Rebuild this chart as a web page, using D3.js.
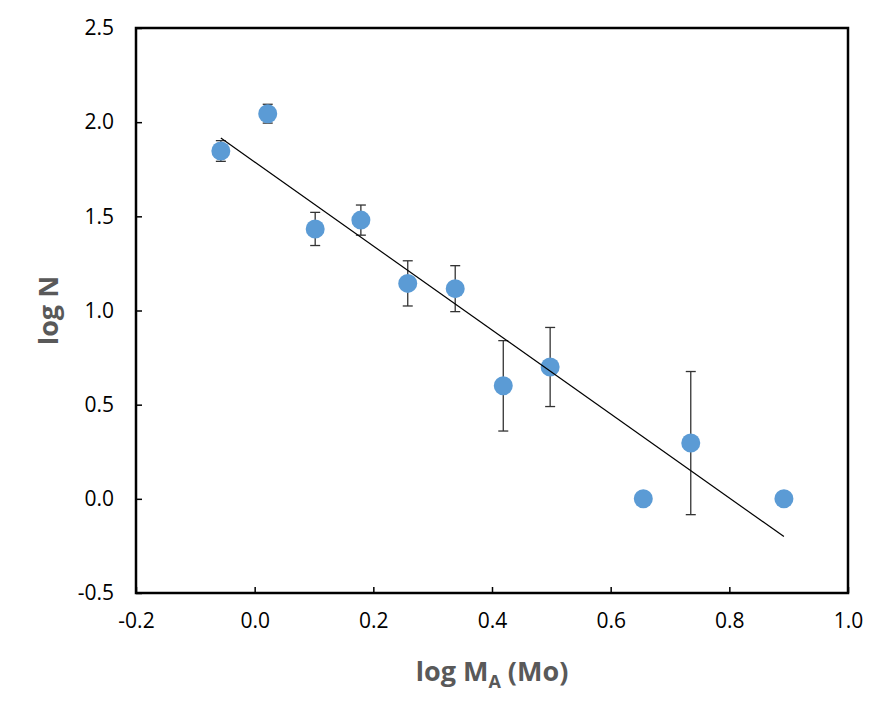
<!DOCTYPE html>
<html lang="en">
<head>
    <meta charset="UTF-8">
    <title>log N vs log MA</title>
    <style>
        body, html {
            margin: 0;
            background: #fff;
            overflow: hidden;
        }
    </style>
</head>
<body>

<script src="https://d3js.org/d3.v7.min.js"></script>

<script>
    // Data
    const logMass = [-0.057, 0.022, 0.102, 0.179, 0.258, 0.338, 0.419, 0.498, 0.655, 0.735, 0.892];
    const logN    = [1.847, 2.045, 1.433, 1.480, 1.144, 1.116, 0.600, 0.700, 0.000, 0.296, 0.000];
    const errN    = [0.055, 0.050, 0.088, 0.080, 0.120, 0.122, 0.240, 0.210, 0, 0.380, 0];

    const xTicks = [-0.2, 0.0, 0.2, 0.4, 0.6, 0.8, 1.0];
    const yTicks = [-0.5, 0.0, 0.5, 1.0, 1.5, 2.0, 2.5];

    const width = 888, height = 720;
    const margin = {top: 28, right: 40, bottom: 127, left: 136};

    const svg = d3.select("body").append("svg")
        .attr("width", width)
        .attr("height", height);

    const x = d3.scaleLinear()
        .domain([-0.2, 1.0])
        .range([margin.left, width - margin.right]);

    const y = d3.scaleLinear()
        .domain([-0.5, 2.5])
        .range([height - margin.bottom, margin.top]);

    const points = logMass.map((m, i) => ({x: m, y: logN[i], e: errN[i]}));

    // Least squares trend line
    const mx = d3.mean(logMass), my = d3.mean(logN);
    const slope = d3.sum(points, d => (d.x - mx) * (d.y - my)) / d3.sum(points, d => (d.x - mx) ** 2);
    const intercept = my - slope * mx;
    const xMin = d3.min(logMass), xMax = d3.max(logMass);

    // plain hyphen for negatives, like the original
    const fmt = d => d3.format(".1f")(d).replace("\u2212", "-");

    // Error bars
    const bars = svg.append("g")
        .attr("stroke", "#333")
        .attr("stroke-width", 1.3)
        .selectAll("g")
        .data(points.filter(d => d.e > 0))
        .join("g");

    bars.append("line")
        .attr("x1", d => x(d.x)).attr("x2", d => x(d.x))
        .attr("y1", d => y(d.y - d.e)).attr("y2", d => y(d.y + d.e));
    bars.append("line")
        .attr("x1", d => x(d.x) - 5).attr("x2", d => x(d.x) + 5)
        .attr("y1", d => y(d.y + d.e)).attr("y2", d => y(d.y + d.e));
    bars.append("line")
        .attr("x1", d => x(d.x) - 5).attr("x2", d => x(d.x) + 5)
        .attr("y1", d => y(d.y - d.e)).attr("y2", d => y(d.y - d.e));

    // Markers
    svg.append("g")
        .selectAll("circle")
        .data(points)
        .join("circle")
        .attr("cx", d => x(d.x))
        .attr("cy", d => y(d.y))
        .attr("r", 9.5)
        .attr("fill", "#5B9BD5");

    // Trend line (drawn over markers)
    svg.append("line")
        .attr("x1", x(xMin))
        .attr("y1", y(slope * xMin + intercept))
        .attr("x2", x(xMax))
        .attr("y2", y(slope * xMax + intercept))
        .attr("stroke", "#000")
        .attr("stroke-width", 1.2);

    // Axes with inward ticks
    const xAxis = svg.append("g")
        .attr("transform", `translate(0,${height - margin.bottom})`)
        .call(d3.axisBottom(x).tickValues(xTicks).tickFormat(fmt)
            .tickSizeInner(-6).tickSizeOuter(0).tickPadding(20));

    const yAxis = svg.append("g")
        .attr("transform", `translate(${margin.left},0)`)
        .call(d3.axisLeft(y).tickValues(yTicks).tickFormat(fmt)
            .tickSizeInner(-6).tickSizeOuter(0).tickPadding(22));

    [xAxis, yAxis].forEach(a => {
        a.select(".domain").remove();
        a.selectAll(".tick line").attr("stroke", "#000").attr("stroke-width", 1.5);
        a.selectAll(".tick text")
            .attr("fill", "#000")
            .style("font-family", "'Open Sans', sans-serif")
            .style("font-size", "21px");
    });

    // Plot frame
    svg.append("rect")
        .attr("x", margin.left)
        .attr("y", margin.top)
        .attr("width", width - margin.left - margin.right)
        .attr("height", height - margin.top - margin.bottom)
        .attr("fill", "none")
        .attr("stroke", "#000")
        .attr("stroke-width", 2.5);

    // Axis titles
    const xTitle = svg.append("text")
        .attr("x", (margin.left + width - margin.right) / 2)
        .attr("y", 681)
        .attr("text-anchor", "middle")
        .attr("fill", "#595959")
        .style("font-family", "'Open Sans', sans-serif")
        .style("font-weight", "bold")
        .style("font-size", "27px");
    xTitle.append("tspan").text("log M");
    xTitle.append("tspan").text("A").attr("dy", 7).style("font-size", "18px");
    xTitle.append("tspan").text(" (Mo)").attr("dy", -7);

    svg.append("text")
        .attr("transform", `translate(58,${(margin.top + height - margin.bottom) / 2}) rotate(-90)`)
        .attr("text-anchor", "middle")
        .attr("fill", "#595959")
        .style("font-family", "'Open Sans', sans-serif")
        .style("font-weight", "bold")
        .style("font-size", "27px")
        .text("log N");
</script>

</body>
</html>
